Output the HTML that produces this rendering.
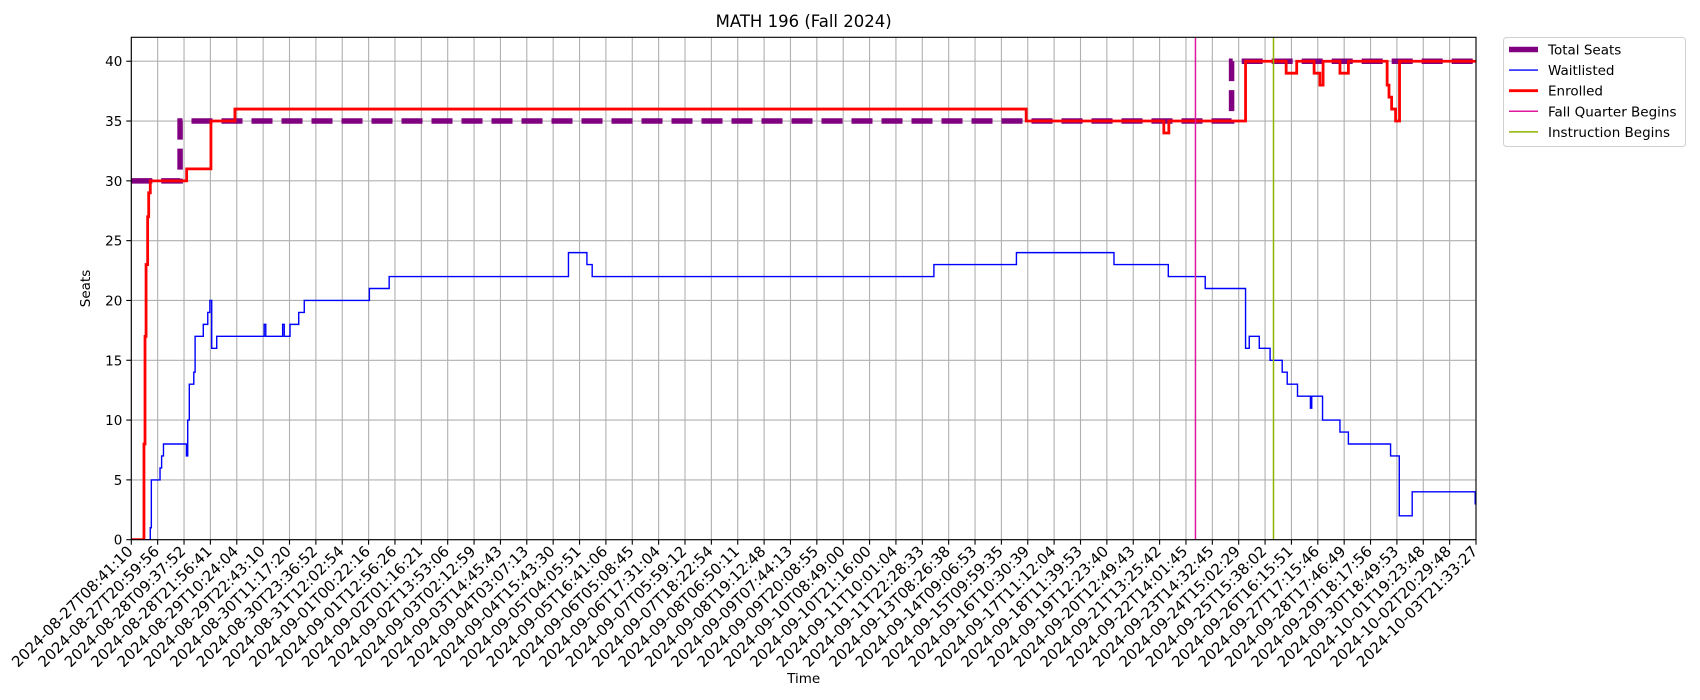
<!DOCTYPE html>
<html><head><meta charset="utf-8"><style>
html,body{margin:0;padding:0;background:#fff;}
svg{display:block;font-family:"DejaVu Sans","Liberation Sans",sans-serif;}
</style></head><body>
<svg id="chart" width="1700" height="700" viewBox="0 0 1700 700"></svg>
<script>
const tickLabels=["2024-08-27T08:41:10","2024-08-27T20:59:56","2024-08-28T09:37:52","2024-08-28T21:56:41","2024-08-29T10:24:04","2024-08-29T22:43:10","2024-08-30T11:17:20","2024-08-30T23:36:52","2024-08-31T12:02:54","2024-09-01T00:22:16","2024-09-01T12:56:26","2024-09-02T01:16:21","2024-09-02T13:53:06","2024-09-03T02:12:59","2024-09-03T14:45:43","2024-09-04T03:07:13","2024-09-04T15:43:30","2024-09-05T04:05:51","2024-09-05T16:41:06","2024-09-06T05:08:45","2024-09-06T17:31:04","2024-09-07T05:59:12","2024-09-07T18:22:54","2024-09-08T06:50:11","2024-09-08T19:12:48","2024-09-09T07:44:13","2024-09-09T20:08:55","2024-09-10T08:49:00","2024-09-10T21:16:00","2024-09-11T10:01:04","2024-09-11T22:28:33","2024-09-13T08:26:38","2024-09-14T09:06:53","2024-09-15T09:59:35","2024-09-16T10:30:39","2024-09-17T11:12:04","2024-09-18T11:39:53","2024-09-19T12:23:40","2024-09-20T12:49:43","2024-09-21T13:25:42","2024-09-22T14:01:45","2024-09-23T14:32:45","2024-09-24T15:02:29","2024-09-25T15:38:02","2024-09-26T16:15:51","2024-09-27T17:15:46","2024-09-28T17:46:49","2024-09-29T18:17:56","2024-09-30T18:49:53","2024-10-01T19:23:48","2024-10-02T20:29:48","2024-10-03T21:33:27"];
const yTicks=[0,5,10,15,20,25,30,35,40];
const totalT=[0,1.85,41.73];
const totalV=[30,35,40];
const enrolledT=[0,0.48,0.52,0.56,0.62,0.66,0.72,2.10,3.02,3.93,33.94,39.16,39.35,42.26,43.8,44.2,44.86,45.08,45.2,45.84,46.16,47.63,47.70,47.8,47.95,48.1];
const enrolledV=[0,8,17,23,27,29,30,31,35,36,35,34,35,40,39,40,39,38,40,39,40,38,37,36,35,40];
const waitT=[0,0.72,0.76,1.09,1.15,1.22,2.09,2.14,2.20,2.37,2.42,2.73,2.90,2.98,3.05,3.24,5.04,5.10,5.74,5.80,6.02,6.35,6.56,9.03,9.78,16.58,17.28,17.48,30.44,33.57,37.27,39.33,40.73,42.26,42.40,42.78,43.19,43.65,43.84,44.23,44.72,44.77,45.18,45.84,46.16,47.76,48.09,48.58,50.97];
const waitV=[0,1,5,6,7,8,7,10,13,14,17,18,19,20,16,17,18,17,18,17,18,19,20,21,22,24,23,22,23,24,23,22,21,16,17,16,15,14,13,12,11,12,10,9,8,7,2,4,3];
const fallQuarterT=40.36;
const instructionT=43.32;
const xMax=51, yMax=42;

const NS="http://www.w3.org/2000/svg";
const svg=document.getElementById('chart');
const L=131.3,R=1476,T=37.3,B=539.7;
const X=u=>L+u*(R-L)/xMax;
const Y=v=>B-v*(B-T)/yMax;
function mk(tag,attrs,parent){const e=document.createElementNS(NS,tag);for(const k in attrs)e.setAttribute(k,attrs[k]);(parent||svg).appendChild(e);return e;}

const grid=mk('g',{});


tickLabels.forEach((lab,i)=>{
  mk('line',{x1:X(i),x2:X(i),y1:T,y2:B,stroke:'#b0b0b0','stroke-width':1.1},grid);
  mk('line',{x1:X(i),x2:X(i),y1:B,y2:B+5,stroke:'#000','stroke-width':1.1});
  const t=mk('text',{transform:`translate(${X(i)-6},${B+4}) rotate(-45)`,'text-anchor':'end',dy:'0.8em','font-size':15,fill:'#000'});
  t.textContent=lab;
  
  
});
yTicks.forEach(v=>{
  mk('line',{x1:L,x2:R,y1:Y(v),y2:Y(v),stroke:'#b0b0b0','stroke-width':1.1},grid);
  mk('line',{x1:L-5,x2:L,y1:Y(v),y2:Y(v),stroke:'#000','stroke-width':1.1});
  const t=mk('text',{x:L-9,y:Y(v)+5,'text-anchor':'end','font-size':13.5});
  t.textContent=v;
  
  
});

function stepPath(ts,vs){let d=`M${X(ts[0])},${Y(vs[0])}`;for(let i=1;i<ts.length;i++){d+=`H${X(ts[i])}V${Y(vs[i])}`;}d+=`H${X(xMax)}`;return d;}
const clip=mk('clipPath',{id:'clip'});mk('rect',{x:L,y:T,width:R-L,height:B-T},clip);

const pTotal=mk('path',{d:stepPath(totalT,totalV),fill:'none',stroke:'#800080','stroke-width':5.5,'stroke-dasharray':'21 9','clip-path':'url(#clip)'});


const pWait=mk('path',{d:stepPath(waitT,waitV),fill:'none',stroke:'#0000ff','stroke-width':1.4,'clip-path':'url(#clip)'});


const pEnr=mk('path',{d:stepPath(enrolledT,enrolledV),fill:'none',stroke:'#ff0000','stroke-width':2.8,'clip-path':'url(#clip)'});


const vFall=mk('line',{x1:X(fallQuarterT),x2:X(fallQuarterT),y1:T,y2:B,stroke:'#e0189c','stroke-width':1.5});


const vInst=mk('line',{x1:X(instructionT),x2:X(instructionT),y1:T,y2:B,stroke:'#8cb400','stroke-width':1.5});



const frame=mk('rect',{x:L,y:T,width:R-L,height:B-T,fill:'none',stroke:'#000','stroke-width':1.1});



const title=mk('text',{x:(L+R)/2,y:27,'text-anchor':'middle','font-size':16.5});
title.textContent='MATH 196 (Fall 2024)';


const yl=mk('text',{transform:`translate(90,${(T+B)/2}) rotate(-90)`,'text-anchor':'middle','font-size':13.5});
yl.textContent='Seats';


const xl=mk('text',{x:(L+R)/2,y:683,'text-anchor':'middle','font-size':13.5});
xl.textContent='Time';



const lg=mk('g',{});


mk('rect',{x:1503.5,y:37.5,width:182,height:109,rx:3,fill:'#fff',stroke:'#d0d0d0','stroke-width':1},lg);
const entries=[['Total Seats','#800080',5.5],['Waitlisted','#0000ff',1.4],['Enrolled','#ff0000',2.8],['Fall Quarter Begins','#e0189c',1.5],['Instruction Begins','#8cb400',1.5]];
entries.forEach((e,i)=>{
  const y=49.5+i*20.6;
  const g=mk('g',{},lg);
  
  
  mk('line',{x1:1509,x2:1538,y1:y,y2:y,stroke:e[1],'stroke-width':e[2]},g);
  const t=mk('text',{x:1548,y:y+5,'font-size':13.5},g);
  t.textContent=e[0];
});
</script>
</body></html>
